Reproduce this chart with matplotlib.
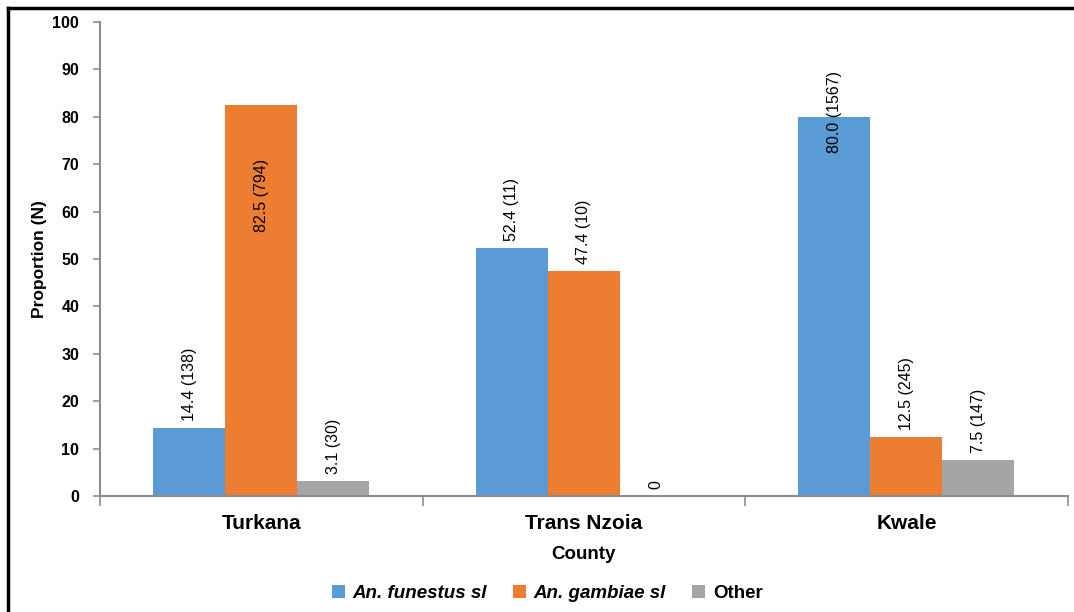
import numpy as np
import matplotlib.pyplot as plt
from matplotlib.lines import Line2D

# Mosquito species composition by county (proportion, with counts)
counties = ["Turkana", "Trans Nzoia", "Kwale"]
series_names = ["An. funestus sl", "An. gambiae sl", "Other"]
funestus = [14.4, 52.4, 80.0]
gambiae = [82.5, 47.4, 12.5]
other = [3.1, 0.0, 7.5]
funestus_n = [138, 11, 1567]
gambiae_n = [794, 10, 245]
other_n = [30, 0, 147]

colors = ["#5B9BD5", "#ED7D31", "#A5A5A5"]

plt.rcParams["font.family"] = ["Liberation Sans", "DejaVu Sans"]

fig = plt.figure(figsize=(10.74, 6.12), dpi=100)
ax = fig.add_axes([0.0931, 0.1895, 0.901, 0.7745])

x = np.arange(len(counties))
w = 0.223
values = [funestus, gambiae, other]
counts = [funestus_n, gambiae_n, other_n]

# label offsets in pixels from the bar top (negative = inside the bar)
offsets = {(1, 0): (-54, "top"), (0, 2): (-36, "bottom")}

for i, (vals, ns) in enumerate(zip(values, counts)):
    xpos = x + (i - 1) * w
    ax.bar(xpos, vals, width=w, color=colors[i], label=series_names[i])
    for j in range(len(counties)):
        if vals[j] == 0:
            txt = "0"
        else:
            txt = "%.1f (%d)" % (vals[j], ns[j])
        dy, va = offsets.get((i, j), (7, "bottom"))
        ax.annotate(txt, (xpos[j], vals[j]), xytext=(0, dy * 0.72),
                    textcoords="offset points", rotation=90,
                    ha="center", va=va, fontsize=11.5)

ax.set_xlim(-0.5, 2.5)
ax.set_ylim(0, 100)
ax.set_yticks(range(0, 101, 10))

ax.set_xticks([-0.5, 0.5, 1.5, 2.5])
ax.set_xticklabels([])
ax.set_xticks(x, minor=True)
ax.set_xticklabels(counties, minor=True, fontsize=15, fontweight="bold")
ax.tick_params(axis="x", which="major", length=7, width=1.2, color="#8C8C8C")
ax.tick_params(axis="x", which="minor", length=0, pad=13)
ax.tick_params(axis="y", length=5, width=1.2, color="#8C8C8C", pad=10,
               labelsize=11.5)
for lab in ax.get_yticklabels():
    lab.set_fontweight("bold")

for s in ["top", "right"]:
    ax.spines[s].set_visible(False)
for s in ["left", "bottom"]:
    ax.spines[s].set_color("#8C8C8C")
    ax.spines[s].set_linewidth(1.5)

ax.set_ylabel("Proportion (N)", fontsize=12.5, fontweight="bold", labelpad=4)
ax.set_xlabel("County", fontsize=13.5, fontweight="bold", labelpad=9)

leg = ax.legend(loc="center", bbox_to_anchor=(0.462, -0.205), ncol=3,
                frameon=False, handlelength=0.7, handleheight=0.7,
                handletextpad=0.4, columnspacing=1.4,
                prop={"size": 13.5, "weight": "bold"})
for t in leg.get_texts()[:2]:
    t.set_fontstyle("italic")

# outer frame on the left and top
fig.add_artist(Line2D([8 / 1074, 8 / 1074], [0, 1 - 8 / 612],
                      transform=fig.transFigure, color="black", lw=2.5))
fig.add_artist(Line2D([8 / 1074, 1], [1 - 8 / 612, 1 - 8 / 612],
                      transform=fig.transFigure, color="black", lw=2.5))

fig.savefig("out.png", dpi=100)
